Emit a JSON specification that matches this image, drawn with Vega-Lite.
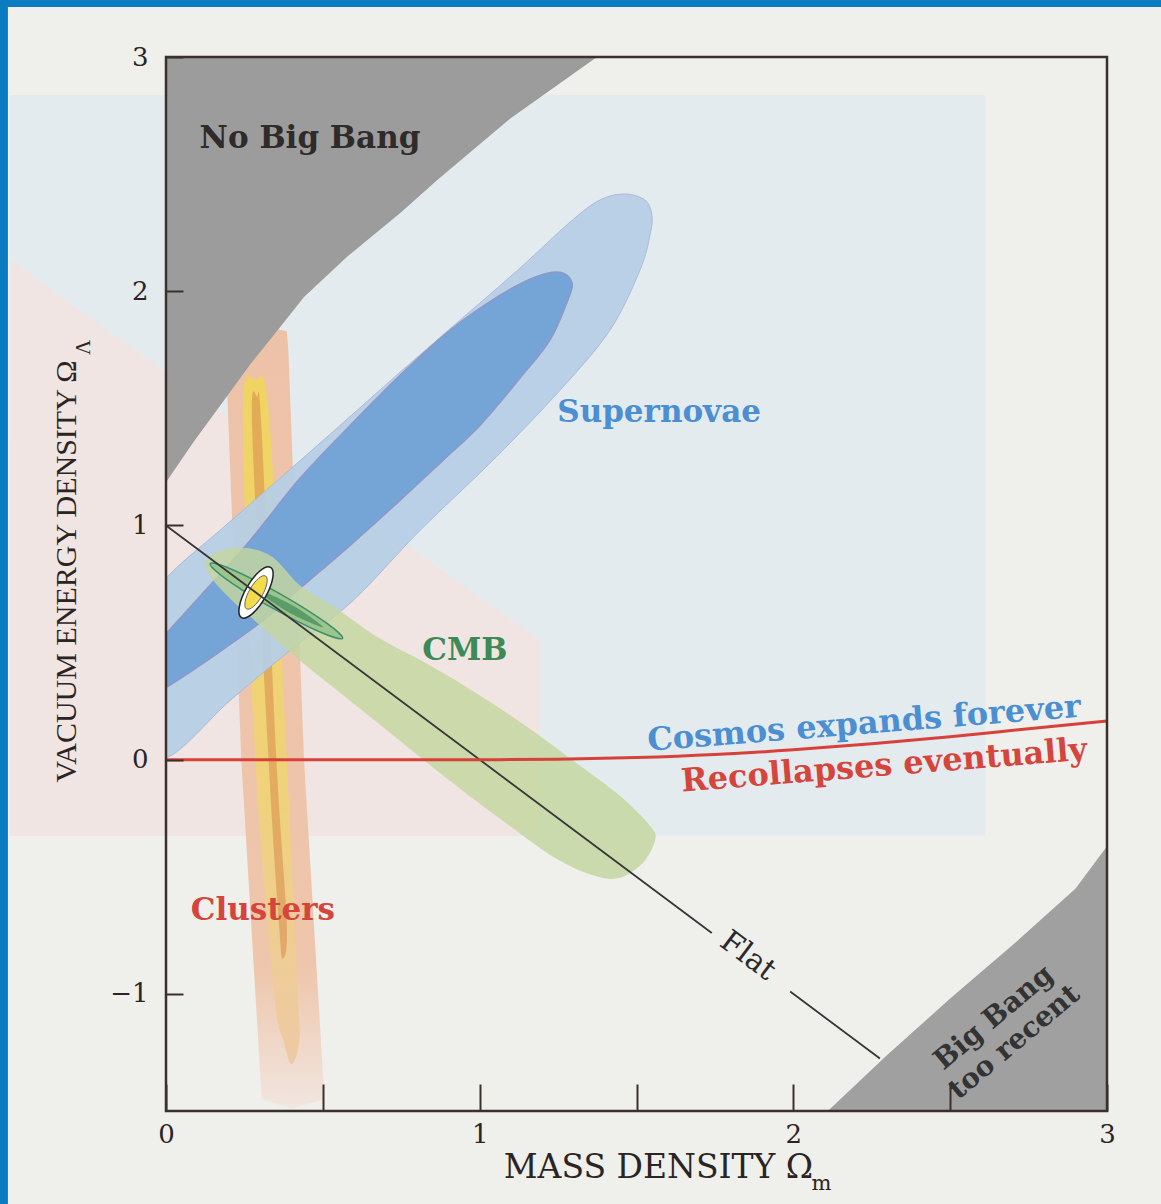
{
  "$schema": "https://vega.github.io/schema/vega-lite/v6.json",
  "autosize": {"type": "none"},
  "width": 941,
  "height": 1054,
  "padding": {"left": 166, "top": 57, "right": 54, "bottom": 93},
  "background": "#0b7cc1",
  "config": {"view": {"stroke": null}, "font": "DejaVu Serif"},
  "datasets": {
    "paper": [{"x": -0.504, "x2": 3.2, "y": 3.214, "y2": -2.0}],
    "bleed": [{"x": -0.497, "x2": 2.611, "y": 2.838, "y2": -0.325}],
    "pink": [
      {"o": 1, "x": -0.497, "y": 2.132}, {"o": 2, "x": 1.192, "y": 0.509},
      {"o": 3, "x": 1.192, "y": -0.325}, {"o": 4, "x": -0.497, "y": -0.325}
    ],
    "clOuter": [
      {"o": 1, "x": 0.19, "y": 1.75}, {"o": 2, "x": 0.26, "y": 1.86}, {"o": 3, "x": 0.385, "y": 1.83},
      {"o": 4, "x": 0.39, "y": 1.75}, {"o": 5, "x": 0.44, "y": 0}, {"o": 6, "x": 0.485, "y": -1.0},
      {"o": 7, "x": 0.505, "y": -1.45}, {"o": 8, "x": 0.40, "y": -1.49}, {"o": 9, "x": 0.305, "y": -1.45},
      {"o": 10, "x": 0.285, "y": -1.0}, {"o": 11, "x": 0.24, "y": 0}
    ],
    "clYellow": [
      {"o": 1, "x": 0.285, "y": 1.62}, {"o": 2, "x": 0.33, "y": 1.45}, {"o": 3, "x": 0.385, "y": 0},
      {"o": 4, "x": 0.42, "y": -1.0}, {"o": 5, "x": 0.425, "y": -1.2}, {"o": 6, "x": 0.40, "y": -1.3},
      {"o": 7, "x": 0.375, "y": -1.2}, {"o": 8, "x": 0.345, "y": -1.0}, {"o": 9, "x": 0.285, "y": 0},
      {"o": 10, "x": 0.245, "y": 1.45}
    ],
    "clCore": [
      {"o": 1, "x": 0.29, "y": 1.55}, {"o": 2, "x": 0.305, "y": 1.40}, {"o": 3, "x": 0.352, "y": 0},
      {"o": 4, "x": 0.385, "y": -0.7}, {"o": 5, "x": 0.372, "y": -0.85}, {"o": 6, "x": 0.36, "y": -0.7},
      {"o": 7, "x": 0.327, "y": 0}, {"o": 8, "x": 0.275, "y": 1.40}
    ],
    "snOuter": [
      {"o": 1, "x": -0.083, "y": 0.594}, {"o": 2, "x": 0, "y": 0.774}, {"o": 3, "x": 0.172, "y": 0.979},
      {"o": 4, "x": 0.363, "y": 1.201}, {"o": 5, "x": 0.555, "y": 1.427}, {"o": 6, "x": 0.746, "y": 1.654},
      {"o": 7, "x": 0.937, "y": 1.876}, {"o": 8, "x": 1.128, "y": 2.098}, {"o": 9, "x": 1.288, "y": 2.295},
      {"o": 10, "x": 1.383, "y": 2.389}, {"o": 11, "x": 1.463, "y": 2.415}, {"o": 12, "x": 1.527, "y": 2.389},
      {"o": 13, "x": 1.549, "y": 2.325}, {"o": 14, "x": 1.543, "y": 2.239}, {"o": 15, "x": 1.511, "y": 2.09},
      {"o": 16, "x": 1.415, "y": 1.833}, {"o": 17, "x": 1.256, "y": 1.577}, {"o": 18, "x": 1.042, "y": 1.278},
      {"o": 19, "x": 0.81, "y": 0.979}, {"o": 20, "x": 0.596, "y": 0.679}, {"o": 21, "x": 0.395, "y": 0.466},
      {"o": 22, "x": 0.204, "y": 0.252}, {"o": 23, "x": 0, "y": 0.009}, {"o": 24, "x": -0.083, "y": 0.167}
    ],
    "snInner": [
      {"o": 1, "x": -0.083, "y": 0.423}, {"o": 2, "x": 0, "y": 0.538}, {"o": 3, "x": 0.108, "y": 0.697},
      {"o": 4, "x": 0.268, "y": 0.936}, {"o": 5, "x": 0.427, "y": 1.201}, {"o": 6, "x": 0.587, "y": 1.427},
      {"o": 7, "x": 0.746, "y": 1.641}, {"o": 8, "x": 0.905, "y": 1.833}, {"o": 9, "x": 1.065, "y": 1.983},
      {"o": 10, "x": 1.176, "y": 2.06}, {"o": 11, "x": 1.256, "y": 2.081}, {"o": 12, "x": 1.294, "y": 2.038},
      {"o": 13, "x": 1.281, "y": 1.962}, {"o": 14, "x": 1.224, "y": 1.791}, {"o": 15, "x": 1.128, "y": 1.628},
      {"o": 16, "x": 1.001, "y": 1.427}, {"o": 17, "x": 0.883, "y": 1.278}, {"o": 18, "x": 0.746, "y": 1.107},
      {"o": 19, "x": 0.587, "y": 0.915}, {"o": 20, "x": 0.427, "y": 0.731}, {"o": 21, "x": 0.322, "y": 0.607},
      {"o": 22, "x": 0.163, "y": 0.453}, {"o": 23, "x": 0, "y": 0.308}, {"o": 24, "x": -0.083, "y": 0.252}
    ],
    "cmbOuter": [
      {"o": 1, "x": 0.131, "y": 0.859}, {"o": 2, "x": 0.22, "y": 0.906}, {"o": 3, "x": 0.332, "y": 0.872},
      {"o": 4, "x": 0.427, "y": 0.744}, {"o": 5, "x": 0.539, "y": 0.65}, {"o": 6, "x": 0.682, "y": 0.517},
      {"o": 7, "x": 0.842, "y": 0.402}, {"o": 8, "x": 1.001, "y": 0.274}, {"o": 9, "x": 1.16, "y": 0.132},
      {"o": 10, "x": 1.32, "y": -0.026}, {"o": 11, "x": 1.447, "y": -0.154}, {"o": 12, "x": 1.543, "y": -0.282},
      {"o": 13, "x": 1.559, "y": -0.346}, {"o": 14, "x": 1.511, "y": -0.453}, {"o": 15, "x": 1.415, "y": -0.509},
      {"o": 16, "x": 1.256, "y": -0.432}, {"o": 17, "x": 1.065, "y": -0.252}, {"o": 18, "x": 0.905, "y": -0.09},
      {"o": 19, "x": 0.746, "y": 0.081}, {"o": 20, "x": 0.587, "y": 0.252}, {"o": 21, "x": 0.427, "y": 0.423},
      {"o": 22, "x": 0.3, "y": 0.573}, {"o": 23, "x": 0.204, "y": 0.688}, {"o": 24, "x": 0.14, "y": 0.786}
    ],
    "cmbInner": [
      {"o": 1, "x": 0.563, "y": 0.518}, {"o": 2, "x": 0.493, "y": 0.544}, {"o": 3, "x": 0.34, "y": 0.647},
      {"o": 4, "x": 0.194, "y": 0.769}, {"o": 5, "x": 0.141, "y": 0.837}, {"o": 6, "x": 0.212, "y": 0.811},
      {"o": 7, "x": 0.365, "y": 0.707}, {"o": 8, "x": 0.51, "y": 0.585}
    ],
    "cmbStreak": [
      {"o": 1, "x": 0.501, "y": 0.565}, {"o": 2, "x": 0.389, "y": 0.63},
      {"o": 3, "x": 0.29, "y": 0.725}, {"o": 4, "x": 0.402, "y": 0.66}
    ],
    "dot": [{"x": 0.287, "y": 0.714}],
    "noBang": [
      {"o": 1, "x": 0, "y": 3}, {"o": 2, "x": 1.374, "y": 3}, {"o": 3, "x": 1.1, "y": 2.74},
      {"o": 4, "x": 0.864, "y": 2.474}, {"o": 5, "x": 0.746, "y": 2.333}, {"o": 6, "x": 0.58, "y": 2.15},
      {"o": 7, "x": 0.44, "y": 1.975}, {"o": 8, "x": 0.354, "y": 1.83}, {"o": 9, "x": 0.27, "y": 1.69},
      {"o": 10, "x": 0.194, "y": 1.55}, {"o": 11, "x": 0.09, "y": 1.36}, {"o": 12, "x": 0, "y": 1.184}
    ],
    "recent": [
      {"o": 1, "x": 2.11, "y": -1.5}, {"o": 2, "x": 2.3, "y": -1.26}, {"o": 3, "x": 2.5, "y": -1.02},
      {"o": 4, "x": 2.7, "y": -0.79}, {"o": 5, "x": 2.9, "y": -0.55}, {"o": 6, "x": 3, "y": -0.37},
      {"o": 7, "x": 3, "y": -1.5}
    ],
    "flat": [
      {"seg": 1, "x": 0, "y": 1}, {"seg": 1, "x": 1.74, "y": -0.74},
      {"seg": 2, "x": 1.99, "y": -0.99}, {"seg": 2, "x": 2.276, "y": -1.276}
    ],
    "recollapse": [
      {"x": 0, "y": 0}, {"x": 1, "y": 0}, {"x": 1.25, "y": 0.002}, {"x": 1.5, "y": 0.009},
      {"x": 1.75, "y": 0.022}, {"x": 2, "y": 0.042}, {"x": 2.25, "y": 0.068}, {"x": 2.5, "y": 0.098},
      {"x": 2.75, "y": 0.132}, {"x": 3, "y": 0.165}
    ],
    "frame": [{"x": 0, "x2": 3, "y": -1.5, "y2": 3}]
  },
  "encoding": {
    "x": {
      "field": "x", "type": "quantitative",
      "scale": {"domain": [0, 3], "nice": false, "zero": false},
      "axis": {
        "values": [0, 0.5, 1, 1.5, 2, 2.5, 3],
        "labelExpr": "datum.value % 1 === 0 ? format(datum.value, 'd') : ''",
        "tickSize": -27, "tickWidth": 2, "tickColor": "#3b302c",
        "labelPadding": 37, "labelFont": "DejaVu Serif", "labelFontSize": 26, "labelColor": "#2a2422",
        "labelFlush": false, "labelOverlap": false,
        "domain": false, "grid": false, "zindex": 1,
        "title": "MASS DENSITY Ω", "titleFont": "DejaVu Serif", "titleFontWeight": "normal",
        "titleFontSize": 33, "titleColor": "#2a2422", "titleX": 492, "titleY": 66,
        "titleBaseline": "alphabetic", "titleAlign": "center"
      }
    },
    "y": {
      "field": "y", "type": "quantitative",
      "scale": {"domain": [-1.5, 3], "nice": false, "zero": false},
      "axis": {
        "values": [-1, 0, 1, 2, 3], "format": "d",
        "tickSize": -17, "tickWidth": 2, "tickColor": "#3b302c",
        "labelPadding": 35, "labelFont": "DejaVu Serif", "labelFontSize": 26, "labelColor": "#2a2422",
        "labelFlush": false, "labelOverlap": false,
        "domain": false, "grid": false, "zindex": 1,
        "title": "VACUUM ENERGY DENSITY Ω", "titleFont": "Liberation Serif", "titleFontWeight": "normal",
        "titleFontSize": 30, "titleColor": "#2a2422", "titleX": -91, "titleY": 514,
        "titleAngle": 270, "titleBaseline": "alphabetic", "titleAlign": "center"
      }
    }
  },
  "layer": [
    {"data": {"name": "paper"}, "mark": {"type": "rect", "fill": "#efefec"},
     "encoding": {"x2": {"field": "x2"}, "y2": {"field": "y2"}}},
    {"data": {"name": "bleed"}, "mark": {"type": "rect", "fill": "#e4ebef"},
     "encoding": {"x2": {"field": "x2"}, "y2": {"field": "y2"}}},
    {"data": {"name": "pink"}, "mark": {"type": "line", "interpolate": "linear-closed", "fill": "#f1e5e3", "strokeWidth": 0},
     "encoding": {"order": {"field": "o"}}},
    {"data": {"name": "clOuter"},
     "mark": {"type": "line", "interpolate": "linear-closed", "strokeWidth": 0, "clip": true,
              "fill": {"gradient": "linear", "x1": 0, "y1": 0, "x2": 0, "y2": 1,
                       "stops": [{"offset": 0, "color": "#edc2a8"}, {"offset": 0.82, "color": "#eec6ab"}, {"offset": 1, "color": "#f1e6e0"}]}},
     "encoding": {"order": {"field": "o"}}},
    {"data": {"name": "clYellow"},
     "mark": {"type": "line", "interpolate": "cardinal-closed", "strokeWidth": 0, "clip": true,
              "fill": {"gradient": "linear", "x1": 0, "y1": 0, "x2": 0, "y2": 1,
                       "stops": [{"offset": 0, "color": "#f0d462"}, {"offset": 0.6, "color": "#efd27a"}, {"offset": 1, "color": "#eec9a6"}]}},
     "encoding": {"order": {"field": "o"}}},
    {"data": {"name": "clCore"},
     "mark": {"type": "line", "interpolate": "cardinal-closed", "strokeWidth": 0, "clip": true, "fill": "#d8914f", "opacity": 0.6},
     "encoding": {"order": {"field": "o"}}},
    {"data": {"name": "snOuter"},
     "mark": {"type": "line", "interpolate": "cardinal-closed", "fill": "#b7cfe6", "stroke": "#a9b9da", "strokeWidth": 1, "clip": true, "opacity": 0.94},
     "encoding": {"order": {"field": "o"}}},
    {"data": {"name": "snInner"},
     "mark": {"type": "line", "interpolate": "cardinal-closed", "fill": "#72a3d7", "stroke": "#8d95c6", "strokeWidth": 1.5, "clip": true, "opacity": 0.95},
     "encoding": {"order": {"field": "o"}}},
    {"data": {"name": "cmbOuter"},
     "mark": {"type": "line", "interpolate": "cardinal-closed", "fill": "#c3d59f", "strokeWidth": 0, "clip": true, "opacity": 0.82},
     "encoding": {"order": {"field": "o"}}},
    {"data": {"name": "cmbInner"},
     "mark": {"type": "line", "interpolate": "cardinal-closed", "fill": "#9cc58c", "stroke": "#3d8f72", "strokeWidth": 1.5, "clip": true},
     "encoding": {"order": {"field": "o"}}},
    {"data": {"name": "cmbStreak"},
     "mark": {"type": "line", "interpolate": "cardinal-closed", "fill": "#5b9d68", "strokeWidth": 0, "clip": true},
     "encoding": {"order": {"field": "o"}}},
    {"data": {"name": "dot"},
     "mark": {"type": "point", "shape": "M0,-1A0.36,1,0,1,1,0,1A0.36,1,0,1,1,0,-1Z", "size": 3364, "angle": 30,
              "filled": true, "fill": "#ffffff", "stroke": "#222222", "strokeWidth": 1.5, "opacity": 1}},
    {"data": {"name": "dot"},
     "mark": {"type": "point", "shape": "M0,-1A0.36,1,0,1,1,0,1A0.36,1,0,1,1,0,-1Z", "size": 1444, "angle": 30,
              "filled": true, "fill": "#f2dc4e", "stroke": "#555555", "strokeWidth": 0.8, "opacity": 1}},
    {"data": {"name": "noBang"},
     "mark": {"type": "line", "interpolate": "linear-closed", "fill": "#9c9c9c", "strokeWidth": 0},
     "encoding": {"order": {"field": "o"}}},
    {"data": {"name": "recent"},
     "mark": {"type": "line", "interpolate": "linear-closed", "fill": "#a0a0a0", "strokeWidth": 0},
     "encoding": {"order": {"field": "o"}}},
    {"data": {"name": "flat"},
     "mark": {"type": "line", "color": "#363636", "strokeWidth": 1.8},
     "encoding": {"detail": {"field": "seg"}}},
    {"data": {"name": "recollapse"},
     "mark": {"type": "line", "color": "#d8403a", "strokeWidth": 3, "interpolate": "monotone"},
     "encoding": {}},
    {"data": {"name": "frame"},
     "mark": {"type": "rect", "fill": null, "fillOpacity": 0, "stroke": "#3b302c", "strokeWidth": 2.5},
     "encoding": {"x2": {"field": "x2"}, "y2": {"field": "y2"}}},
    {"data": {"values": [{"x": 0.459, "y": 2.611, "t": "No Big Bang"}]},
     "mark": {"type": "text", "font": "DejaVu Serif", "fontWeight": "bold", "fontSize": 31, "color": "#2f2b2a", "align": "center", "baseline": "alphabetic"},
     "encoding": {"text": {"field": "t"}}},
    {"data": {"values": [{"x": 1.572, "y": 1.44, "t": "Supernovae"}]},
     "mark": {"type": "text", "font": "DejaVu Serif", "fontWeight": "bold", "fontSize": 31, "color": "#4b8fd2", "align": "center", "baseline": "alphabetic"},
     "encoding": {"text": {"field": "t"}}},
    {"data": {"values": [{"x": 0.953, "y": 0.427, "t": "CMB"}]},
     "mark": {"type": "text", "font": "DejaVu Serif", "fontWeight": "bold", "fontSize": 31, "color": "#3c8a57", "align": "center", "baseline": "alphabetic"},
     "encoding": {"text": {"field": "t"}}},
    {"data": {"values": [{"x": 0.309, "y": -0.684, "t": "Clusters"}]},
     "mark": {"type": "text", "font": "DejaVu Serif", "fontWeight": "bold", "fontSize": 31, "color": "#d6453c", "align": "center", "baseline": "alphabetic"},
     "encoding": {"text": {"field": "t"}}},
    {"data": {"values": [{"x": 2.228, "y": 0.111, "t": "Cosmos expands forever"}]},
     "mark": {"type": "text", "font": "DejaVu Serif", "fontWeight": "bold", "fontSize": 32, "color": "#4b8fd2", "align": "center", "baseline": "alphabetic", "angle": 355.5},
     "encoding": {"text": {"field": "t"}}},
    {"data": {"values": [{"x": 2.292, "y": -0.068, "t": "Recollapses eventually"}]},
     "mark": {"type": "text", "font": "DejaVu Serif", "fontWeight": "bold", "fontSize": 32, "color": "#d6453c", "align": "center", "baseline": "alphabetic", "angle": 355.5},
     "encoding": {"text": {"field": "t"}}},
    {"data": {"values": [{"x": 1.855, "y": -0.838, "t": "Flat"}]},
     "mark": {"type": "text", "font": "DejaVu Serif", "fontSize": 30, "color": "#2a2a2a", "align": "center", "baseline": "middle", "angle": 37},
     "encoding": {"text": {"field": "t"}}},
    {"data": {"values": [{"x": 2.64, "y": -1.103, "t": "Big Bang\ntoo recent"}]},
     "mark": {"type": "text", "font": "DejaVu Serif", "fontWeight": "bold", "fontSize": 28, "color": "#333333", "align": "center", "baseline": "middle", "angle": 320, "lineBreak": "\n", "lineHeight": 32},
     "encoding": {"text": {"field": "t"}}},
    {"data": {"values": [{"x": 2.09, "y": -1.812, "t": "m"}]},
     "mark": {"type": "text", "font": "DejaVu Serif", "fontSize": 21, "color": "#2a2422", "align": "center", "baseline": "middle"},
     "encoding": {"text": {"field": "t"}}},
    {"data": {"values": [{"x": -0.261, "y": 1.76, "t": "Λ"}]},
     "mark": {"type": "text", "font": "Liberation Serif", "fontSize": 21, "color": "#2a2422", "align": "center", "baseline": "middle", "angle": 270},
     "encoding": {"text": {"field": "t"}}}
  ]
}
